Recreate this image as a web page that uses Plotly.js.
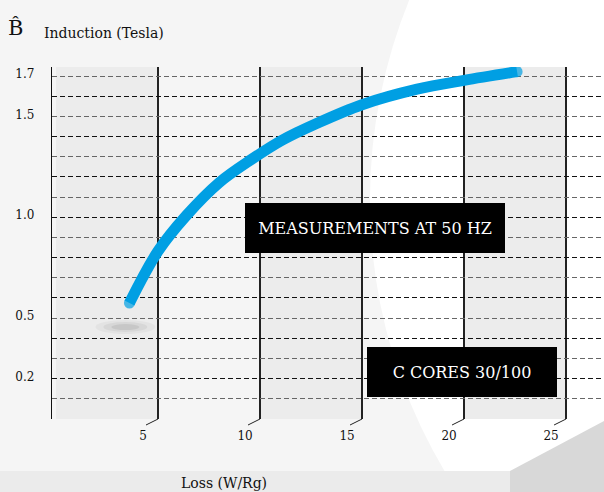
<!DOCTYPE html>
<html>
<head>
<meta charset="utf-8">
<script src="https://cdn.plot.ly/plotly-3.0.1.min.js"></script>
<style>html,body{margin:0;padding:0;background:#f5f5f5;}#chart{width:604px;height:492px;}</style>
</head>
<body>
<div id="chart"></div>
<script>
// Data
var loss = [3.6, 5.0, 6.4, 8.0, 9.6, 11.1, 12.8, 15.0, 17.7, 20.0, 22.6];
var induction = [0.575, 0.832, 1.01, 1.172, 1.288, 1.383, 1.466, 1.558, 1.635, 1.679, 1.722];
var xTickVals = [5, 10, 15, 20, 25];
var xTickText = ["5", "10", "15", "20", "25"];
var yTickVals = [0.2, 0.5, 1.0, 1.5, 1.7];
var yTickText = ["0.2", "0.5", "1.0", "1.5", "1.7"];
var gridEven = [0, 0.2, 0.4, 0.6, 0.8, 1.0, 1.2, 1.4, 1.6];
var gridOdd = [0.1, 0.3, 0.5, 0.7, 0.9, 1.1, 1.3, 1.5, 1.7];
var bandStarts = [0, 10, 20];
var bandEnds = [5, 15, 25];
var labelMeasure = "MEASUREMENTS AT 50 HZ";
var labelCores = "C CORES 30/100";

var FONT = "DejaVu Serif, Liberation Serif, serif";
var XR = [-0.196, 26.86];
var YR = [0, 1.745];

var traces = [
  {x: loss, y: induction, type: 'scatter', mode: 'lines+markers',
   line: {color: '#009fe3', width: 11, shape: 'spline', smoothing: 1},
   marker: {color: '#009fe3', line: {width: 0},
            size: loss.map(function(v, i){ return (i === 0 || i === loss.length - 1) ? 11 : 0; })},
   hoverinfo: 'skip', showlegend: false},
  {x: [], y: [], yaxis: 'y2', type: 'scatter', showlegend: false},
  {x: [], y: [], yaxis: 'y3', type: 'scatter', showlegend: false}
];

var shapes = [];
// page background decorations
shapes.push({type: 'circle', xref: 'paper', yref: 'paper', layer: 'below',
  x0: 0.576, x1: 2.5, y0: -0.884, y1: 2.128, fillcolor: '#ffffff', line: {width: 0}});
// grey column bands
for (var i = 0; i < bandStarts.length; i++) {
  shapes.push({type: 'rect', xref: 'x', yref: 'paper', layer: 'below',
    x0: bandStarts[i], x1: bandEnds[i], y0: 0, y1: 1, fillcolor: '#ececec', line: {width: 0}});
}
// platform at the bottom
shapes.push({type: 'rect', xref: 'paper', yref: 'paper', layer: 'below',
  x0: -0.0942, x1: 0.8297, y0: -0.2074, y1: -0.1477, fillcolor: '#ebebeb', line: {width: 0}});
shapes.push({type: 'path', xref: 'paper', yref: 'paper', layer: 'below',
  path: 'M 0.8297 -0.1477 L 1.0 -0.0057 L 1.0 -0.2074 L 0.8297 -0.2074 Z',
  fillcolor: '#d8d8d8', line: {width: 0}});
// soft shadow below the start of the curve
[[30, 7, 0.035], [22, 5, 0.05], [14, 3, 0.07]].forEach(function(s) {
  shapes.push({type: 'circle', xref: 'x', yref: 'y', layer: 'below',
    xsizemode: 'pixel', ysizemode: 'pixel', xanchor: loss[0] - 0.2, yanchor: 0.456,
    x0: -s[0], x1: s[0], y0: -s[1], y1: s[1],
    fillcolor: 'rgba(0,0,0,' + s[2] + ')', line: {width: 0}});
});
// slanted perspective ticks at the foot of each vertical line
[XR[0]].concat(xTickVals).forEach(function(v) {
  shapes.push({type: 'line', xref: 'x', yref: 'paper', layer: 'above',
    xsizemode: 'pixel', xanchor: v, x0: 0, x1: -12,
    ysizemode: 'pixel', yanchor: 0, y0: 0, y1: -6,
    line: {color: '#222', width: 1}});
});

var annotations = [
  {xref: 'paper', yref: 'paper', x: -0.067, y: 1.11, text: 'B\u0302', showarrow: false,
   xanchor: 'center', yanchor: 'middle', font: {family: FONT, size: 21, color: '#111'}},
  {xref: 'paper', yref: 'paper', x: -0.019, y: 1.097, text: 'Induction (Tesla)', showarrow: false,
   xanchor: 'left', yanchor: 'middle', font: {family: FONT, size: 14, color: '#111'}},
  {xref: 'paper', yref: 'paper', x: 0.3116, y: -0.182, text: 'Loss (W/Rg)', showarrow: false,
   xanchor: 'center', yanchor: 'middle', font: {family: FONT, size: 14, color: '#111'}},
  {xref: 'paper', yref: 'paper', x: (375 - 52) / 552, y: (419 - 228) / 352, text: labelMeasure, showarrow: false,
   xanchor: 'center', yanchor: 'middle', bgcolor: '#000', borderpad: 0, borderwidth: 0,
   width: 260, height: 50, font: {family: FONT, size: 16, color: '#fff'}},
  {xref: 'paper', yref: 'paper', x: (462 - 52) / 552, y: (419 - 372) / 352, text: labelCores, showarrow: false,
   xanchor: 'center', yanchor: 'middle', bgcolor: '#000', borderpad: 0, borderwidth: 0,
   width: 190, height: 50, font: {family: FONT, size: 16, color: '#fff'}}
];

var layout = {
  width: 604, height: 492,
  margin: {l: 52, r: 0, t: 67, b: 73, pad: 0},
  paper_bgcolor: '#f5f5f5', plot_bgcolor: 'rgba(0,0,0,0)',
  showlegend: false,
  xaxis: {range: XR, tickvals: xTickVals, ticktext: xTickText, showgrid: true,
    gridcolor: '#222', gridwidth: 1.2, zeroline: false, showline: false, ticks: '',
    ticklabelshift: -15, ticklabelstandoff: 8,
    tickfont: {family: FONT, size: 12, color: '#111'}, fixedrange: true},
  yaxis: {range: YR, tickvals: yTickVals, ticktext: yTickText, showgrid: false,
    zeroline: false, showline: true, linecolor: '#111', linewidth: 1.2, ticks: '',
    ticklabelstandoff: 14, ticklabelshift: -2,
    tickfont: {family: FONT, size: 12, color: '#111'}, fixedrange: true},
  yaxis2: {range: YR, overlaying: 'y', tickvals: gridEven, showticklabels: false, ticks: '',
    showgrid: true, gridcolor: '#111', gridwidth: 1, griddash: '5px,3px', zeroline: false, fixedrange: true},
  yaxis3: {range: YR, overlaying: 'y', tickvals: gridOdd, showticklabels: false, ticks: '',
    showgrid: true, gridcolor: '#666', gridwidth: 1, griddash: '5px,3px', zeroline: false, fixedrange: true},
  shapes: shapes,
  annotations: annotations
};

Plotly.newPlot('chart', traces, layout, {displayModeBar: false, staticPlot: true});
</script>
</body>
</html>
